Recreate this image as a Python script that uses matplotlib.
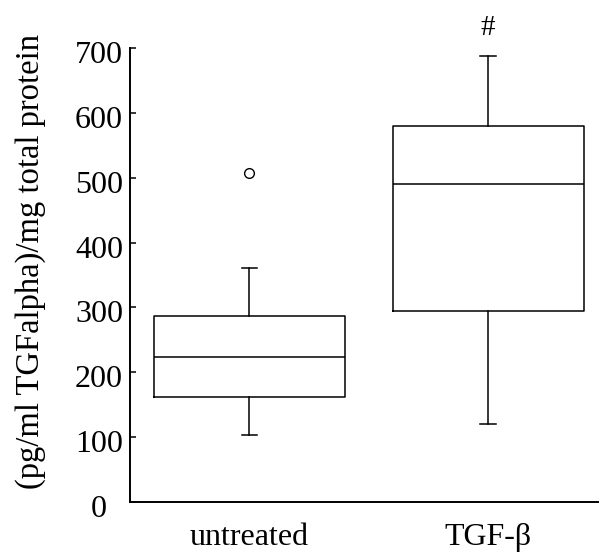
import matplotlib
matplotlib.use("Agg")
from matplotlib import pyplot as plt
from matplotlib.transforms import ScaledTranslation

# box statistics
groups = ['untreated', 'TGF-\u03b2']
whislo = [103, 120]
q1 = [162, 295]
med = [224, 490]
q3 = [287, 580]
whishi = [360, 688]
fliers = [[508], []]
marks = ['', '#']
yticks = [0, 100, 200, 300, 400, 500, 600, 700]

plt.rcParams['font.family'] = ['Liberation Serif', 'DejaVu Serif']

fig = plt.figure(figsize=(6, 5.52), dpi=100)
ax = fig.add_axes([0.2167, 0.0906, 0.78, 0.8225])

stats = []
for i, g in enumerate(groups):
    stats.append(dict(label=g, whislo=whislo[i], q1=q1[i], med=med[i],
                      q3=q3[i], whishi=whishi[i], fliers=fliers[i]))

ax.bxp(stats, positions=[1, 2], widths=0.8, capwidths=0.065,
       boxprops=dict(color='k', linewidth=1.1),
       medianprops=dict(color='k', linewidth=1.1),
       whiskerprops=dict(color='k', linewidth=1.1),
       capprops=dict(color='k', linewidth=1.1),
       flierprops=dict(marker='o', markersize=7, markerfacecolor='none',
                       markeredgecolor='k', markeredgewidth=1.0))

for i, m in enumerate(marks):
    if m:
        ax.text(i + 1, whishi[i] + 43, m, ha='center', va='center',
                fontsize=21, clip_on=False)

ax.set_xlim(0.5, 2.46)
ax.set_ylim(0, 700)
ax.set_yticks(yticks)
ax.spines['top'].set_visible(False)
ax.spines['right'].set_visible(False)
ax.spines['left'].set_linewidth(1.4)
ax.spines['bottom'].set_linewidth(1.4)
ax.tick_params(axis='y', direction='in', length=4, width=1.1, labelsize=23, pad=5)
ax.tick_params(axis='x', length=0, labelsize=23, pad=15)
ax.set_ylabel('(pg/ml TGFalpha)/mg total protein', fontsize=23.5, va='center')
ax.yaxis.set_label_coords(-0.212, 0.529)

# labels sit a little below their ticks; the 0 is set further left
fig.canvas.draw()
for lab in ax.get_yticklabels():
    lab.set_transform(lab.get_transform() + ScaledTranslation(0, -4 / 100, fig.dpi_scale_trans))
ax.get_yticklabels()[0].set_transform(
    ax.get_yticklabels()[0].get_transform() + ScaledTranslation(-16 / 100, 0, fig.dpi_scale_trans))

fig.savefig('out.png', dpi=100)
